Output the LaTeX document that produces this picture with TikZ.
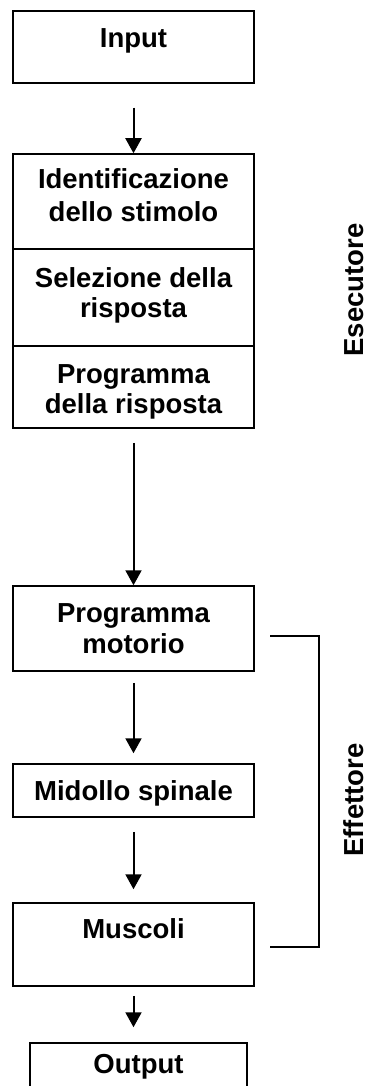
\documentclass[tikz,border=0pt]{standalone}
\usepackage{fontspec}
\setmainfont{Liberation Sans}
\usetikzlibrary{arrows.meta}
\begin{document}
\begin{tikzpicture}[x=1pt,y=-1pt,
  box/.style={draw=black,line width=1.5pt,rectangle,inner sep=0pt,minimum width=241pt},
  txt/.style={font=\fontsize{27.5}{31}\selectfont\bfseries,inner sep=0pt,anchor=base},
  side/.style={font=\fontsize{27.5}{31}\selectfont\bfseries,inner sep=0pt,rotate=90},
  arr/.style={line width=2pt,-{Triangle[width=16pt,length=15pt]}},
  brk/.style={line width=1.3pt}]
\useasboundingbox (0,0) rectangle (369,1086);
\clip (0,0) rectangle (369,1086);
% boxes
\node[box,minimum height=72pt] (inp) at (133.5,47) {};
\node[box,minimum height=95pt] (id) at (133.5,201.5) {};
\node[box,minimum height=97pt] (sel) at (133.5,297.5) {};
\node[box,minimum height=82pt] (prg) at (133.5,387) {};
\node[box,minimum height=85pt] (mot) at (133.5,628.5) {};
\node[box,minimum height=53pt] (mid) at (133.5,790.5) {};
\node[box,minimum height=83pt] (mus) at (133.5,944.5) {};
\node[box,minimum height=70pt,minimum width=217pt] (out) at (138.5,1078) {};
% texts
\node[txt] (tinp) at (133.5,48) {Input};
\node[txt] (tid1) at (133.5,189) {Identificazione};
\node[txt] (tid2) at (133.5,222) {dello stimolo};
\node[txt] (tsel1) at (133.5,287) {Selezione della};
\node[txt] (tsel2) at (133.5,317) {risposta};
\node[txt] (tprg1) at (133.5,383) {Programma};
\node[txt] (tprg2) at (133.5,413) {della risposta};
\node[txt] (tmot1) at (133.5,622) {Programma};
\node[txt] (tmot2) at (133.5,653) {motorio};
\node[txt] (tmid) at (133.5,800) {Midollo spinale};
\node[txt] (tmus) at (133.5,938) {Muscoli};
\node[txt] (tout) at (138.5,1073) {Output};
\node[side] (ese) at (354,290) {Esecutore};
\node[side] (eff) at (354,800) {Effettore};
% arrows
\draw[arr,shorten <=24pt] (inp.south) -- (id.north);
\draw[arr,shorten <=14pt] (prg.south) -- (mot.north);
\draw[arr,shorten <=11pt,shorten >=10pt] (mot.south) -- (mid.north);
\draw[arr,shorten <=14pt,shorten >=13pt] (mid.south) -- (mus.north);
\draw[arr,shorten <=9pt,shorten >=15pt] (mus.south) -- (mus.south |- out.north);
% bracket
\coordinate (b1) at (270,636);
\coordinate (b2) at (270,947);
\draw[brk] (b1) -- (319,636) -- (319,947) -- (b2);
\end{tikzpicture}
\end{document}
